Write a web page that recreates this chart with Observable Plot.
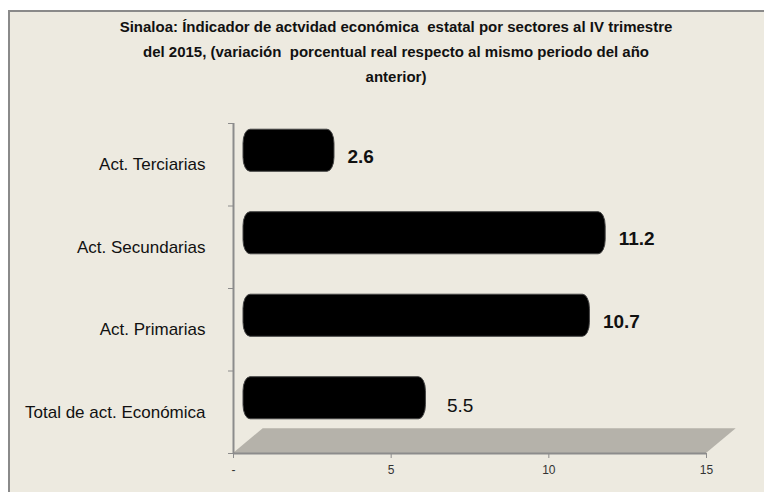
<!DOCTYPE html>
<html>
<head>
<meta charset="utf-8">
<script src="https://cdn.jsdelivr.net/npm/d3@7"></script>
<script src="https://cdn.jsdelivr.net/npm/@observablehq/plot@0.6"></script>
<style>
  html, body { margin: 0; padding: 0; background: #ffffff; width: 764px; height: 492px; overflow: hidden; }
  #frame { position: absolute; left: 8px; top: 10px; width: 780px; height: 500px; background: #EDEAE0;
           border-left: 2px solid #8a8a8a; border-top: 2px solid #8a8a8a; box-sizing: border-box; }
  #title { position: absolute; left: 14px; width: 764px; top: 14px; text-align: center;
           font-family: "Liberation Sans", Arial, sans-serif; font-weight: bold;
           font-size: 15px; line-height: 25px; color: #111; }
  #chart { position: absolute; left: 0; top: 0; }
</style>
</head>
<body>
<div id="frame"></div>
<div id="title">Sinaloa: Índicador de actvidad económica&nbsp; estatal por sectores al IV trimestre<br>del 2015, (variación&nbsp; porcentual real respecto al mismo periodo del año<br>anterior)</div>
<div id="chart"></div>
<script>
const categories = ["Total de act. Económica", "Act. Primarias", "Act. Secundarias", "Act. Terciarias"];
const values = [5.5, 10.7, 11.2, 2.6];
const xTicks = [0, 5, 10, 15];
const xTickLabels = ["-", "5", "10", "15"];

const data = categories.map((c, i) => ({cat: c, value: values[i], pos: i + 0.5}));
const font = '"Liberation Sans", Arial, sans-serif';
const floorFill = "#b5b2aa";

const svg = Plot.plot({
  width: 764,
  height: 492,
  marginLeft: 233,
  marginRight: 58,
  marginTop: 123,
  marginBottom: 39,
  style: {background: "transparent", fontFamily: font, fontSize: "12px", color: "#8c8c8c"},
  x: {domain: [0, 15], ticks: xTicks, tickFormat: (d) => xTickLabels[xTicks.indexOf(d)], tickSize: 5, tickPadding: 7, label: null},
  y: {domain: [0, 4], ticks: [0, 1, 2, 3, 4], tickFormat: () => "", tickSize: 5, label: null},
  marks: [
    Plot.rect([0], {x1: 0, x2: 15, y1: 0, y2: 0.3, fill: floorFill}),
    Plot.ruleX([0], {stroke: "#8c8c8c", strokeWidth: 2}),
    Plot.ruleY([0], {stroke: "#8c8c8c", strokeWidth: 2}),
    Plot.rect(data, {x1: 0, x2: "value", y1: (d) => d.pos - 0.255, y2: (d) => d.pos + 0.255,
      fill: "#000", stroke: "#444", strokeWidth: 1, rx: 7, ry: 14, dx: 10, dy: -14, insetRight: -9}),
    Plot.text(data.filter((d) => d.pos > 1), {x: "value", y: "pos", text: (d) => d.value.toFixed(1), dx: 32, dy: -8,
      textAnchor: "start", fontSize: 19, fontWeight: "bold", fill: "#111", fontFamily: font}),
    Plot.text(data.filter((d) => d.pos < 1), {x: "value", y: "pos", text: (d) => d.value.toFixed(1), dx: 40, dy: -6,
      textAnchor: "start", fontSize: 19, fontWeight: "normal", fill: "#111", fontFamily: font}),
    Plot.text(data, {x: 0, y: "pos", text: "cat", dx: -28, textAnchor: "end", fontSize: 17, fill: "#111", fontFamily: font})
  ]
});

// turn the floor rect into a slanted 3-D floor
d3.select(svg).selectAll("rect").each(function () {
  const g = this.parentNode;
  const f = (this.getAttribute("fill") || g.getAttribute("fill") || "").toLowerCase();
  if (f !== floorFill) return;
  const x = +this.getAttribute("x"), y = +this.getAttribute("y"),
        w = +this.getAttribute("width"), h = +this.getAttribute("height");
  d3.select(g).append("polygon")
    .attr("points", [[x, y + h], [x + w, y + h], [x + w + h * 1.2, y], [x + h * 1.2, y]].map((p) => p.join(",")).join(" "))
    .attr("fill", floorFill);
  this.remove();
});
d3.select(svg).selectAll('g[aria-label^="x-axis"] text').attr("fill", "#333");
document.getElementById("chart").appendChild(svg);
</script>
</body>
</html>
